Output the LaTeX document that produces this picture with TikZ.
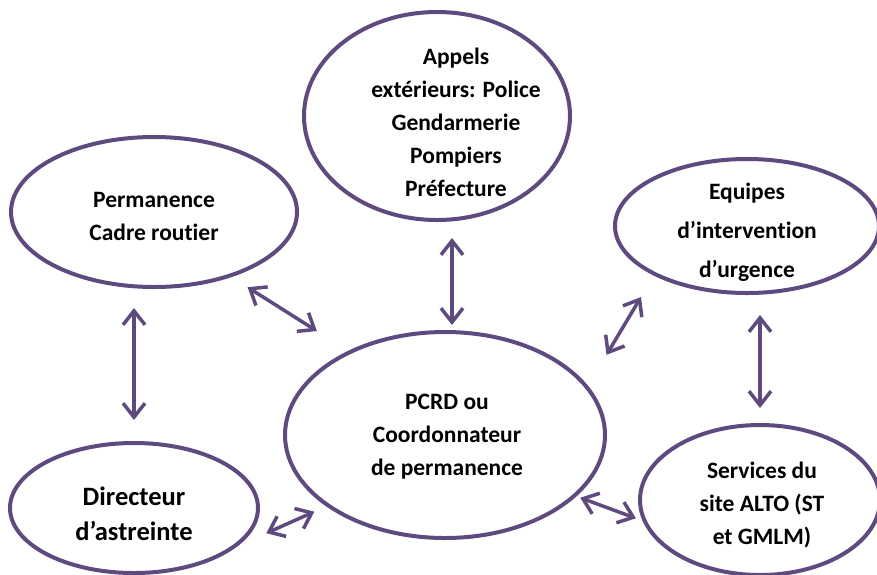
\documentclass[tikz,border=0pt]{standalone}
\usepackage{fontspec}
\setmainfont{Carlito}[Ligatures=NoCommon]
\usetikzlibrary{shapes,arrows.meta,positioning,calc}
\definecolor{bubblecol}{HTML}{5E4A7E}

\begin{document}
\begin{tikzpicture}[x=1pt,y=-1pt,
  bubble/.style={ellipse, draw=bubblecol, line width=4pt, inner sep=0pt},
  lbl/.style={font=\bfseries\fontsize{23.5}{33}\selectfont, align=center, text=black},
  link/.style={draw=bubblecol, line width=3.5pt,
    {Straight Barb[length=14pt,width=22pt]}-{Straight Barb[length=14pt,width=22pt]}}]
\useasboundingbox (0,0) rectangle (877,574);

% Ellipses
\node[bubble, minimum width=266pt, minimum height=208pt,
  label={[lbl,xshift=19pt,yshift=-6pt]center:{Appels\\extérieurs: Police\\Gendarmerie\\Pompiers\\Préfecture}}] (appels) at (437,116) {};
\node[bubble, minimum width=286pt, minimum height=150pt,
  label={[lbl,yshift=-4pt]center:{Permanence\\Cadre routier}}] (perm) at (154,212) {};
\node[bubble, minimum width=264pt, minimum height=134pt,
  label={[lbl,font=\bfseries\fontsize{23.5}{39}\selectfont,yshift=-6pt]center:{Equipes\\d’intervention\\d’urgence}}] (equipes) at (747,226) {};
\node[bubble, minimum width=320pt, minimum height=206pt,
  label={[lbl,xshift=2pt,yshift=-2pt]center:{PCRD ou\\Coordonnateur\\de permanence}}] (pcrd) at (445,435) {};
\node[bubble, minimum width=248pt, minimum height=130pt,
  label={[lbl,font=\bfseries\fontsize{26.5}{35}\selectfont,yshift=-6pt]center:{Directeur\\d’astreinte}}] (dir) at (134,508) {};
\node[bubble, minimum width=240pt, minimum height=150pt,
  label={[lbl,xshift=2pt,yshift=-5pt]center:{Services du\\site ALTO (ST\\et GMLM)}}] (serv) at (760,500) {};

% Arrows
\draw[link, shorten <=19pt, shorten >=37pt] (perm.-40) -- (pcrd.139);
\draw[link, shorten <=16pt, shorten >=5pt] ($(appels.south -| pcrd.north)+(7,0)$) -- ($(pcrd.north)+(7,0)$);
\draw[link, shorten <=19pt, shorten >=21pt] (perm.south -| dir.north) -- (dir.north);
\draw[link, shorten <=25pt, shorten >=36pt] (equipes.208) -- (pcrd.19);
\draw[link, shorten <=20pt, shorten >=15pt] (equipes.south -| serv.north) -- (serv.north);
\draw[link, shorten <=31pt, shorten >=13pt] (dir.-20) -- (pcrd.211);
\draw[link, shorten <=4pt, shorten >=7pt] (pcrd.-25) -- (serv.190);
\end{tikzpicture}
\end{document}
